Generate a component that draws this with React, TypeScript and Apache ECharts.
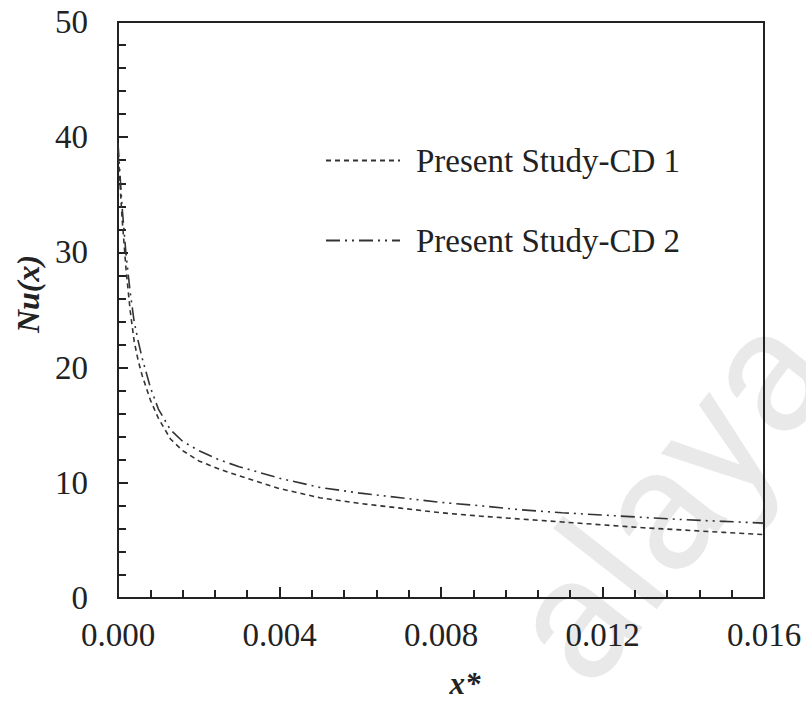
import React, { useEffect, useRef } from "react";
import * as echarts from "echarts";

const xValues = [0, 0.0001, 0.0002, 0.0003, 0.0004, 0.0005, 0.0006, 0.0008, 0.001, 0.0013, 0.0016, 0.002, 0.0025, 0.003, 0.004, 0.005, 0.006, 0.007, 0.008, 0.009, 0.01, 0.011, 0.012, 0.013, 0.014, 0.015, 0.016];
const cd1 = [39.0, 33.0, 28.5, 25.0, 22.3, 20.6, 19.3, 17.2, 15.6, 13.8, 12.8, 11.9, 11.2, 10.6, 9.5, 8.7, 8.2, 7.8, 7.4, 7.1, 6.85, 6.6, 6.35, 6.1, 5.9, 5.7, 5.5];
const cd2 = [39.5, 34.0, 29.8, 26.6, 24.0, 22.3, 20.8, 18.3, 16.4, 14.6, 13.6, 12.8, 12.0, 11.4, 10.4, 9.6, 9.1, 8.7, 8.3, 8.0, 7.65, 7.4, 7.2, 7.0, 6.8, 6.65, 6.5];
const seriesNames = ["Present Study-CD 1", "Present Study-CD 2"];
const xTicks = [0, 0.004, 0.008, 0.012, 0.016];
const yTicks = [0, 10, 20, 30, 40, 50];

const FONT = "'Liberation Serif', 'Times New Roman', serif";

export default function App() {
  const ref = useRef<HTMLDivElement>(null);
  useEffect(() => {
    if (!ref.current) return;
    const chart = echarts.init(ref.current, undefined, { renderer: "svg" });
    const pair = (ys: number[]) => xValues.map((x, i) => [x, ys[i]]);
    chart.setOption({
      animation: false,
      backgroundColor: "#ffffff",
      grid: { left: 118, top: 22, right: 42, bottom: 103, show: true, borderColor: "#222", borderWidth: 2, backgroundColor: "transparent" },
      xAxis: {
        type: "value",
        min: xTicks[0],
        max: xTicks[xTicks.length - 1],
        interval: 0.004,
        axisLine: { show: true, onZero: false, lineStyle: { color: "#222", width: 2 } },
        axisTick: { show: true, inside: true, length: 11, lineStyle: { color: "#222", width: 2 } },
        minorTick: { show: true, splitNumber: 5, length: 8, lineStyle: { color: "#222", width: 2 } },
        splitLine: { show: false },
        axisLabel: { color: "#222", fontFamily: FONT, fontSize: 33, margin: 20, formatter: (v: number) => v.toFixed(3) },
      },
      yAxis: {
        type: "value",
        min: yTicks[0],
        max: yTicks[yTicks.length - 1],
        interval: 10,
        axisLine: { show: true, lineStyle: { color: "#222", width: 2 } },
        axisTick: { show: true, inside: true, length: 10, lineStyle: { color: "#222", width: 2 } },
        minorTick: { show: true, splitNumber: 5, length: 8, lineStyle: { color: "#222", width: 2 } },
        splitLine: { show: false },
        axisLabel: { color: "#222", fontFamily: FONT, fontSize: 33, margin: 30 },
      },
      legend: {
        orient: "vertical",
        left: 320,
        top: 139,
        itemWidth: 74,
        itemHeight: 14,
        itemGap: 47,
        data: seriesNames,
        itemStyle: { opacity: 0 },
        textStyle: { color: "#222", fontFamily: FONT, fontSize: 33, padding: [0, 0, 0, 11] },
      },
      series: [
        {
          name: seriesNames[0],
          type: "line",
          data: pair(cd1),
          showSymbol: false,
          symbol: "none",
          lineStyle: { color: "#333", width: 1.6, type: [5, 4] },
          itemStyle: { color: "#333" },
        },
        {
          name: seriesNames[1],
          type: "line",
          data: pair(cd2),
          showSymbol: false,
          symbol: "none",
          lineStyle: { color: "#333", width: 1.6, type: [14, 5, 2, 5, 2, 5] },
          itemStyle: { color: "#333" },
        },
      ],
      graphic: [
        {
          type: "text",
          x: 612,
          y: 712,
          rotation: (52 * Math.PI) / 180,
          silent: true,
          z: -10,
          style: { text: "alaya", fontFamily: "Roboto, sans-serif", fontSize: 175, fill: "#e9e9e9", textAlign: "left", textVerticalAlign: "bottom" },
        },
        {
          type: "text",
          x: 465,
          y: 683,
          style: { text: "x*", fontFamily: FONT, fontSize: 31, fontStyle: "italic", fontWeight: "bold", fill: "#222", textAlign: "center", textVerticalAlign: "middle" },
        },
        {
          type: "text",
          x: 28,
          y: 294,
          rotation: Math.PI / 2,
          style: { text: "Nu(x)", fontFamily: FONT, fontSize: 32, fontStyle: "italic", fontWeight: "bold", fill: "#222", textAlign: "center", textVerticalAlign: "middle" },
        },
      ],
    });
    return () => chart.dispose();
  }, []);
  return <div ref={ref} style={{ position: "absolute", left: 0, top: 0, width: 806, height: 701 }} />;
}
